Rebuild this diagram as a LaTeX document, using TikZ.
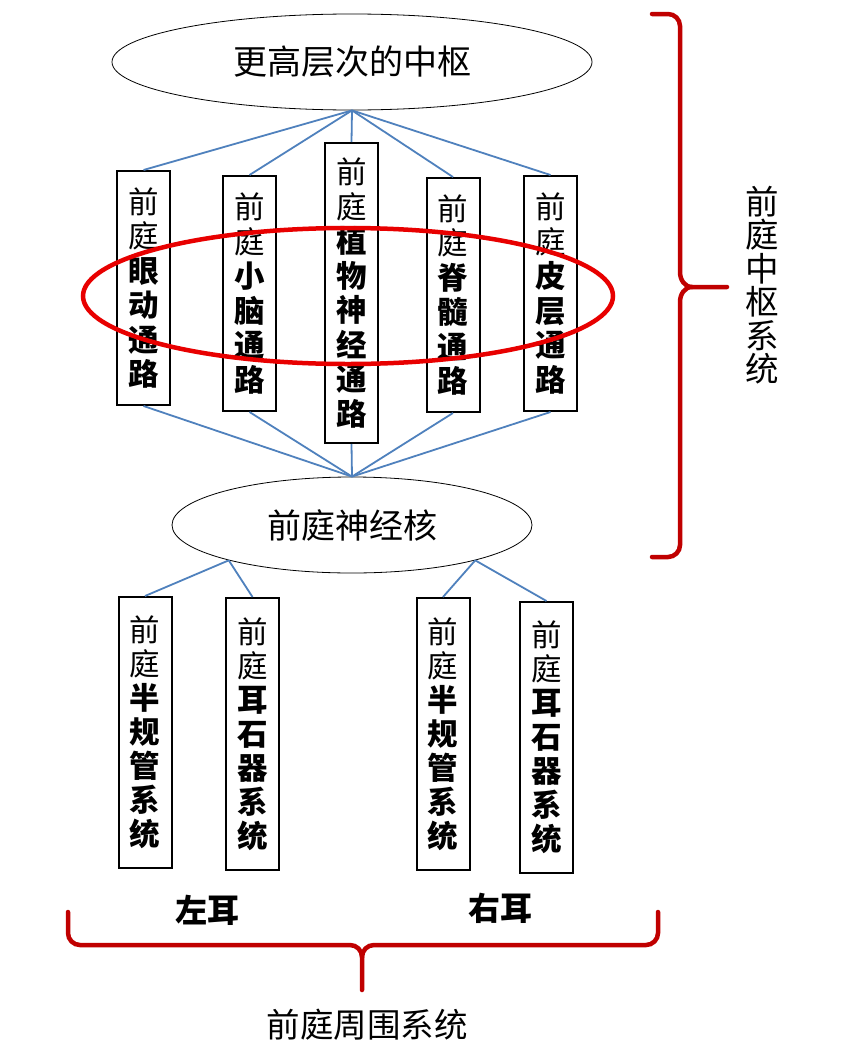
\documentclass[tikz,border=0pt]{standalone}
\usepackage{fontspec}
\setmainfont{Noto Sans CJK SC}[BoldFont={Noto Sans CJK SC Black}]
\usetikzlibrary{shapes.geometric}
\definecolor{linkblue}{RGB}{79,129,189}
\definecolor{bracered}{RGB}{192,0,0}
\definecolor{ringred}{RGB}{232,0,0}
\begin{document}
\begin{tikzpicture}[x=1pt,y=-1pt,
  oval/.style={draw=black, line width=0.8pt, ellipse, inner sep=0pt, font=\fontsize{34}{36}\selectfont},
  vbox/.style={draw=black, line width=2pt, minimum width=53pt, inner sep=0pt, align=center, font=\fontsize{30.5}{34.5}\selectfont},
  lvbox/.style={vbox, font=\fontsize{30.5}{34}\selectfont},
  link/.style={draw=linkblue, line width=1.8pt},
  brace/.style={draw=bracered, line width=4.5pt, line cap=round},
  ring/.style={draw=ringred, line width=4.5pt, ellipse, inner sep=0pt},
  lbl/.style={font=\fontsize{33.5}{33.5}\selectfont, align=center, inner sep=0pt},
  ear/.style={font=\bfseries\fontsize{32}{33}\selectfont, inner sep=0pt}
]
\useasboundingbox (0,0) rectangle (846,1055);
\fill[white] (0,0) rectangle (846,1055);

% ellipses
\node[oval, minimum width=480pt, minimum height=96pt] (top) at (352,62) {更高层次的中枢};
\node[oval, minimum width=360pt, minimum height=96pt] (low) at (352,525) {前庭神经核};

% upper boxes
\node[vbox, minimum height=234pt] (b1) at (143.5,288) {前\\庭\\\textbf{眼}\\\textbf{动}\\\textbf{通}\\\textbf{路}};
\node[vbox, minimum height=235pt] (b2) at (249.5,293.5) {前\\庭\\\textbf{小}\\\textbf{脑}\\\textbf{通}\\\textbf{路}};
\node[vbox, minimum height=300pt] (b3) at (351.5,293) {前\\庭\\\textbf{植}\\\textbf{物}\\\textbf{神}\\\textbf{经}\\\textbf{通}\\\textbf{路}};
\node[vbox, minimum height=234pt] (b4) at (453,295) {前\\庭\\\textbf{脊}\\\textbf{髓}\\\textbf{通}\\\textbf{路}};
\node[vbox, minimum height=235pt] (b5) at (550.5,293.5) {前\\庭\\\textbf{皮}\\\textbf{层}\\\textbf{通}\\\textbf{路}};

% lower boxes
\node[lvbox, minimum height=271pt] (l1) at (145,732.5) {前\\庭\\\textbf{半}\\\textbf{规}\\\textbf{管}\\\textbf{系}\\\textbf{统}};
\node[lvbox, minimum height=272pt] (l2) at (252.5,734) {前\\庭\\\textbf{耳}\\\textbf{石}\\\textbf{器}\\\textbf{系}\\\textbf{统}};
\node[lvbox, minimum height=272pt] (r1) at (443,734) {前\\庭\\\textbf{半}\\\textbf{规}\\\textbf{管}\\\textbf{系}\\\textbf{统}};
\node[lvbox, minimum height=271pt] (r2) at (546.5,737.5) {前\\庭\\\textbf{耳}\\\textbf{石}\\\textbf{器}\\\textbf{系}\\\textbf{统}};

% connectors
\foreach \b in {b1,b2,b3,b4,b5} {
  \draw[link] (top.south) -- (\b.north);
  \draw[link] (\b.south) -- (low.north);
}
\draw[link] (low.196) -- (l1.north);
\draw[link] (low.196) -- (l2.north);
\draw[link] (low.-16) -- (r1.north);
\draw[link] (low.-16) -- (r2.north);

% red ring
\node[ring, minimum width=530pt, minimum height=136pt] (ringnode) at (348,296) {};

% right brace
\draw[brace] (652,14) -- (668,14) to[out=0,in=90] (680,26) -- (680,272) to[out=-90,in=180] (692,287) -- (727,287);
\draw[brace] (692,287) to[out=180,in=90] (680,302) -- (680,545) to[out=-90,in=0] (668,557) -- (652,557);
\node[lbl] (central) at (762,285) {前\\庭\\中\\枢\\系\\统};

% bottom brace
\draw[brace] (68,912) -- (68,933) to[out=-90,in=180] (80,945) -- (350,945) to[out=0,in=90] (362,957) -- (362,990);
\draw[brace] (658,912) -- (658,933) to[out=-90,in=0] (646,945) -- (374,945) to[out=180,in=90] (362,957);
\node[ear] (leftear) at (207,910) {左耳};
\node[ear] (rightear) at (500,908) {右耳};
\node[lbl] (periph) at (367,1025) {前庭周围系统};
\end{tikzpicture}
\end{document}
